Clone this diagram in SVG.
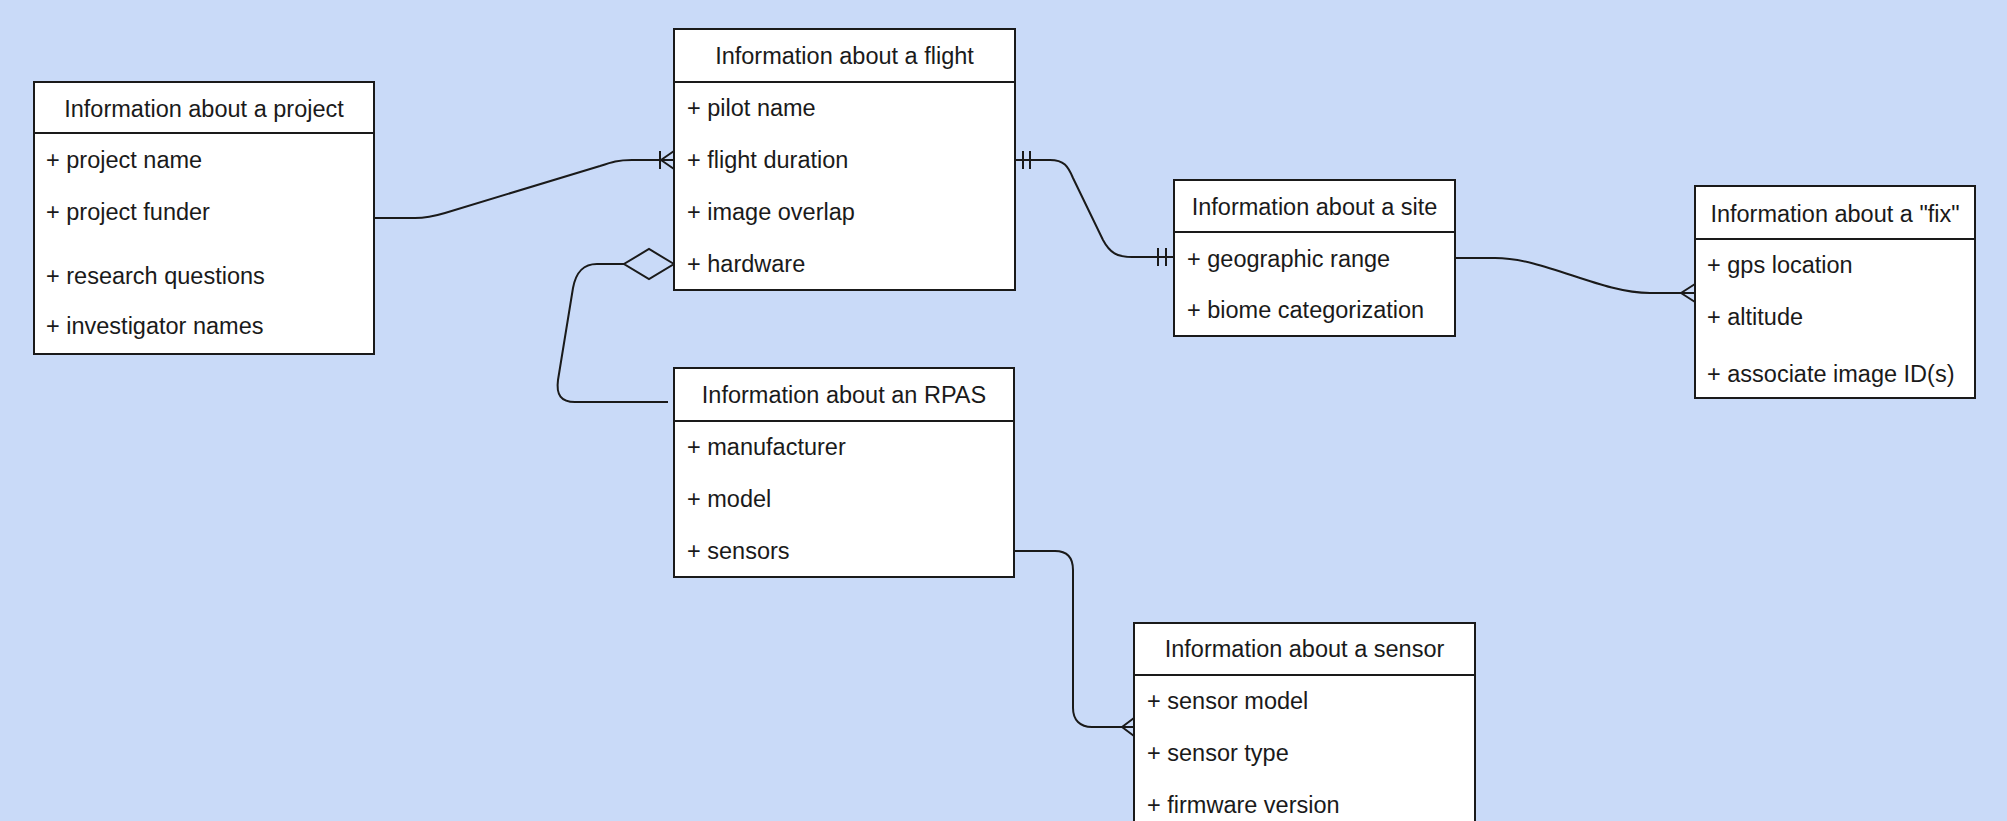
<svg xmlns="http://www.w3.org/2000/svg" width="2007" height="821" viewBox="0 0 2007 821">
<style>
.bg{fill:#c9daf8}
.box{fill:#ffffff;stroke:#1a1a1a;stroke-width:2}
.sep{stroke:#1a1a1a;stroke-width:2}
.t{font-family:"Liberation Sans",Arial,Helvetica,sans-serif;font-size:23.5px;fill:#1a1a1a}
.title{text-anchor:middle}
.edge{fill:none;stroke:#1a1a1a;stroke-width:2}
.mk{fill:none;stroke:#1a1a1a;stroke-width:2}
</style>
<rect class="bg" x="0" y="0" width="2007" height="821"/>

<g id="connectors">
  <!-- project to flight (one-or-many at flight) -->
  <path class="edge" d="M374,218 L415,218 C428,218 435,216 445,213 L600,166 C612,162 618,160 632,160 L674,160"/>
  <path class="mk" d="M660,151 L660,169 M661,160 L674,151 M661,160 L674,169"/>
  <!-- flight to site (one-and-only-one both ends) -->
  <path class="edge" d="M1015,160 L1050,160 C1064,160 1068,166 1073,178 L1103,240 C1110,253 1117,257 1132,257 L1174,257"/>
  <path class="mk" d="M1023,151 L1023,169 M1030,151 L1030,169 M1158,248 L1158,266 M1166,248 L1166,266"/>
  <!-- site to fix (many at fix) -->
  <path class="edge" d="M1455,258 L1495,258 C1545,258 1600,293 1650,293 L1695,293"/>
  <path class="mk" d="M1681,293 L1695,284 M1681,293 L1695,302"/>
  <!-- flight hardware to RPAS (aggregation diamond) -->
  <polygon class="mk" points="674,264 649,249 624,264 649,279"/>
  <path class="edge" d="M624,264 L597,264 C583,264 576,272 573,288 L558,380 C556,395 561,402 575,402 L668,402"/>
  <!-- RPAS sensors to sensor (many at sensor) -->
  <path class="edge" d="M1014,551 L1055,551 C1067,551 1073,558 1073,570 L1073,708 C1073,720 1080,727 1092,727 L1134,727"/>
  <path class="mk" d="M1122,727 L1134,718 M1122,727 L1134,736"/>
</g>

<g id="project">
  <rect class="box" x="34" y="82" width="340" height="272"/>
  <line class="sep" x1="34" y1="133" x2="374" y2="133"/>
  <text class="t title" x="204" y="117">Information about a project</text>
  <text class="t" x="46" y="168">+ project name</text>
  <text class="t" x="46" y="220">+ project funder</text>
  <text class="t" x="46" y="284">+ research questions</text>
  <text class="t" x="46" y="334">+ investigator names</text>
</g>

<g id="flight">
  <rect class="box" x="674" y="29" width="341" height="261"/>
  <line class="sep" x1="674" y1="82" x2="1015" y2="82"/>
  <text class="t title" x="844.5" y="64">Information about a flight</text>
  <text class="t" x="687" y="116">+ pilot name</text>
  <text class="t" x="687" y="168">+ flight duration</text>
  <text class="t" x="687" y="220">+ image overlap</text>
  <text class="t" x="687" y="272">+ hardware</text>
</g>

<g id="site">
  <rect class="box" x="1174" y="180" width="281" height="156"/>
  <line class="sep" x1="1174" y1="232" x2="1455" y2="232"/>
  <text class="t title" x="1314.5" y="215">Information about a site</text>
  <text class="t" x="1187" y="267">+ geographic range</text>
  <text class="t" x="1187" y="318">+ biome categorization</text>
</g>

<g id="fix">
  <rect class="box" x="1695" y="186" width="280" height="212"/>
  <line class="sep" x1="1695" y1="239" x2="1975" y2="239"/>
  <text class="t title" x="1835" y="222">Information about a "fix"</text>
  <text class="t" x="1707" y="273">+ gps location</text>
  <text class="t" x="1707" y="325">+ altitude</text>
  <text class="t" x="1707" y="382">+ associate image ID(s)</text>
</g>

<g id="rpas">
  <rect class="box" x="674" y="368" width="340" height="209"/>
  <line class="sep" x1="674" y1="421" x2="1014" y2="421"/>
  <text class="t title" x="844" y="403">Information about an RPAS</text>
  <text class="t" x="687" y="455">+ manufacturer</text>
  <text class="t" x="687" y="507">+ model</text>
  <text class="t" x="687" y="559">+ sensors</text>
</g>

<g id="sensor">
  <rect class="box" x="1134" y="623" width="341" height="215"/>
  <line class="sep" x1="1134" y1="675" x2="1475" y2="675"/>
  <text class="t title" x="1304.5" y="657">Information about a sensor</text>
  <text class="t" x="1147" y="709">+ sensor model</text>
  <text class="t" x="1147" y="761">+ sensor type</text>
  <text class="t" x="1147" y="813">+ firmware version</text>
</g>
</svg>
